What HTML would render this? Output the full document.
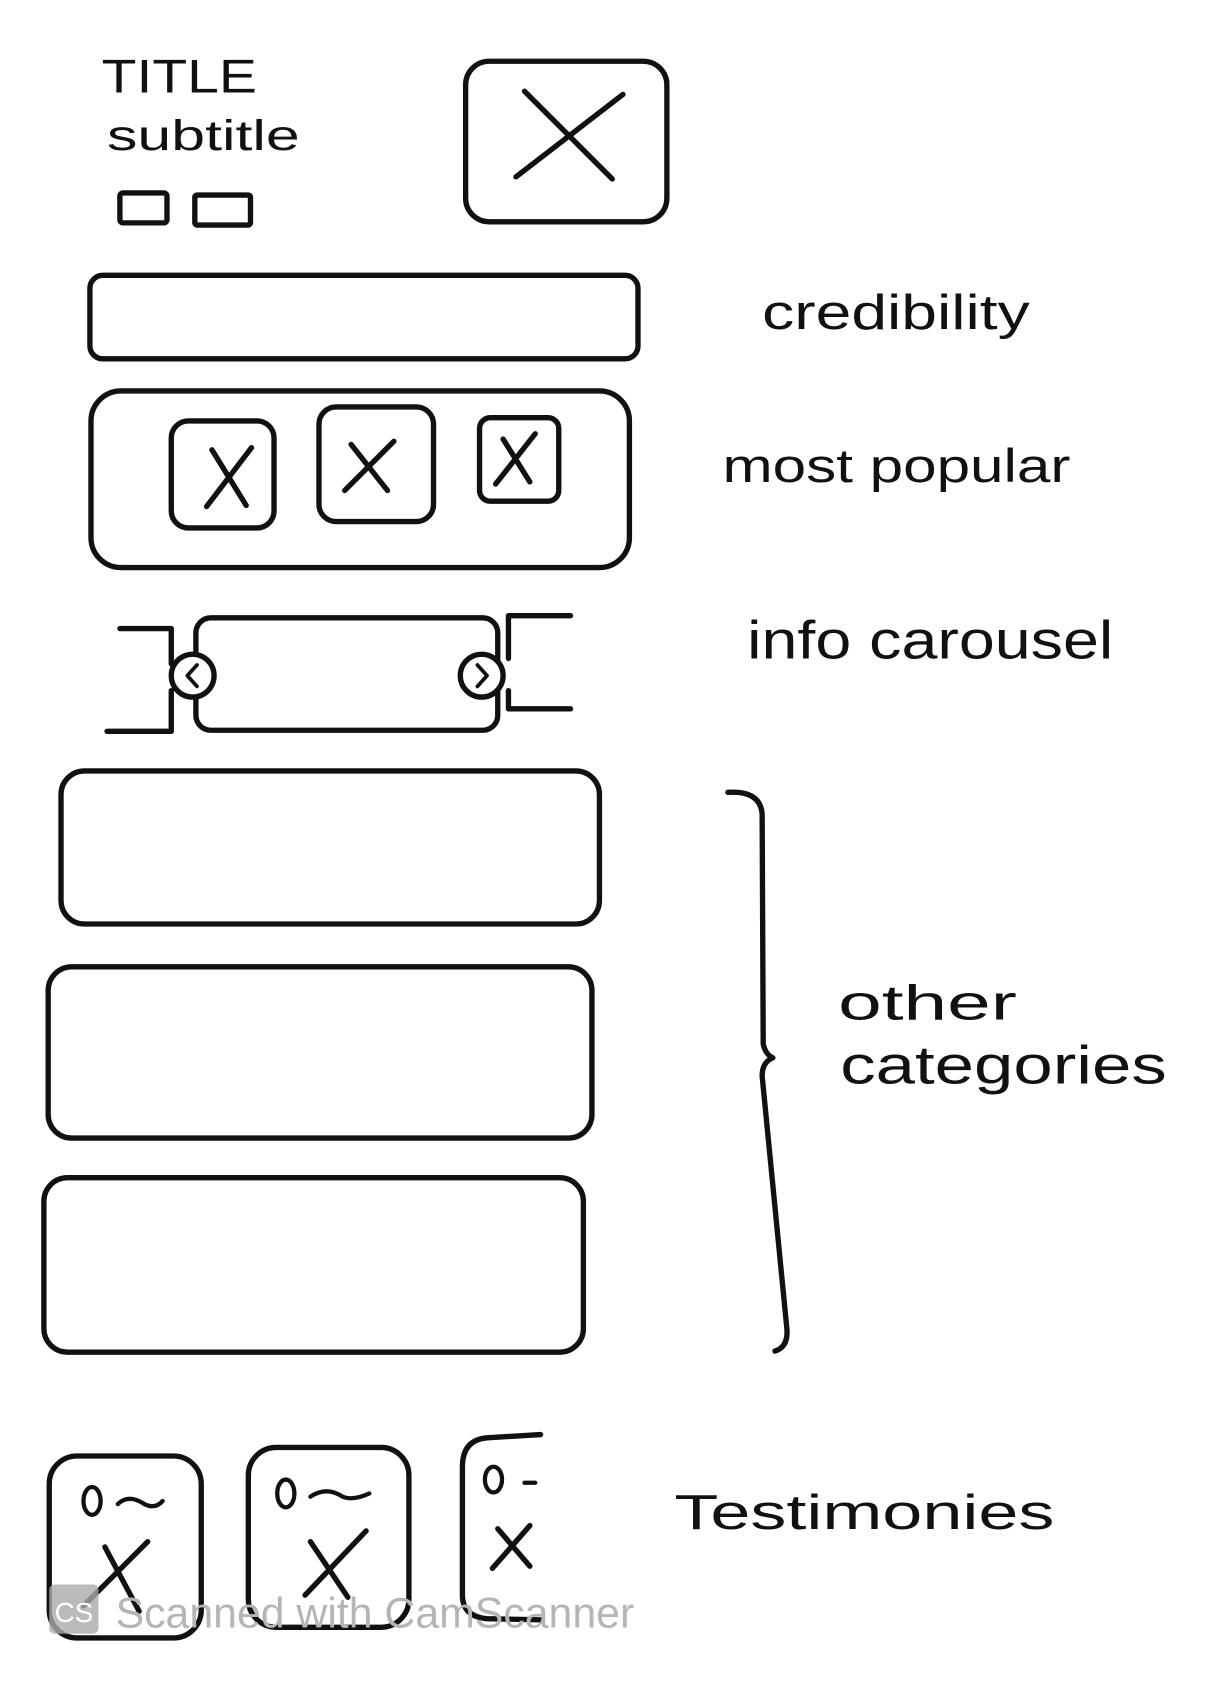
<!DOCTYPE html>
<html><head><meta charset="utf-8"><style>
html,body{margin:0;padding:0;background:#fff;}
svg{display:block}
text{font-family:"Liberation Sans",sans-serif;fill:#111}
</style></head><body>
<svg width="1216" height="1696" viewBox="0 0 1136 1584" xmlns="http://www.w3.org/2000/svg">
<rect width="1136" height="1584" fill="#fff"/>
<g fill="none" stroke="#111" stroke-width="5" stroke-linecap="round" stroke-linejoin="round">
<rect x="112" y="180" width="44" height="28" rx="3"/>
<rect x="182" y="182" width="52" height="28" rx="2"/>
<rect x="435" y="57" width="188" height="150" rx="22"/>
<path d="M482 165 L582 88 M490 85 L572 167"/>
<rect x="84" y="257" width="512" height="78" rx="12"/>
<rect x="85" y="365" width="503" height="165" rx="28"/>
<rect x="160" y="393" width="96" height="100" rx="16"/>
<path d="M193 473 L235 418 M198 420 L230 472"/>
<rect x="298" y="380" width="107" height="107" rx="16"/>
<path d="M322 458 L368 412 M328 415 L362 458"/>
<rect x="448" y="390" width="74" height="78" rx="10"/>
<path d="M463 452 L500 405 M470 410 L495 450"/>
<rect x="183" y="577" width="282" height="105" rx="14"/>
<path d="M112 587 L160 587 L160 620 M160 645 L160 683 L100 683"/>
<path d="M533 575 L475 575 L475 615 M475 645 L475 662 L533 662"/>
<circle cx="180" cy="631" r="20" fill="#fff"/>
<circle cx="450" cy="631" r="20" fill="#fff"/>
<path d="M184 621 L175 631 L184 641 M446 621 L455 631 L446 641" stroke-width="3.5"/>
<rect x="57" y="720" width="503" height="143" rx="22"/>
<rect x="45" y="903" width="508" height="160" rx="22"/>
<rect x="41" y="1100" width="504" height="163" rx="22"/>
<path d="M680 740 Q710 738 712 760 L713 975 Q715 985 722 988 Q712 992 712 1005 L735 1240 Q737 1258 724 1262"/>
<rect x="46" y="1360" width="142" height="170" rx="26"/>
<rect x="232" y="1352" width="150" height="168" rx="26"/>
<path d="M505 1340 L455 1343 Q432 1345 432 1370 L432 1490 Q432 1510 455 1512 L505 1513"/>
<path d="M78 1500 L138 1440 M98 1445 L130 1505 M285 1490 L342 1430 M290 1440 L325 1492 M460 1465 L495 1425 M465 1428 L495 1463"/>
<ellipse cx="86" cy="1402" rx="8" ry="13" stroke-width="4"/>
<path d="M110 1405 Q120 1395 135 1405 Q145 1410 152 1402" stroke-width="4"/>
<ellipse cx="267" cy="1395" rx="8" ry="13" stroke-width="4"/>
<path d="M290 1398 Q305 1388 320 1398 Q330 1402 345 1395" stroke-width="4"/>
<ellipse cx="461" cy="1382" rx="8" ry="12" stroke-width="4"/>
<path d="M490 1385 L500 1385" stroke-width="4"/>
</g>
<g lengthAdjust="spacingAndGlyphs">
<text x="95" y="86" font-size="44" textLength="145" lengthAdjust="spacingAndGlyphs">TITLE</text>
<text x="100" y="140" font-size="40" textLength="180" lengthAdjust="spacingAndGlyphs">subtitle</text>
<text x="712" y="307" font-size="46" textLength="250" lengthAdjust="spacingAndGlyphs">credibility</text>
<text x="675" y="450" font-size="44" textLength="325" lengthAdjust="spacingAndGlyphs">most popular</text>
<text x="698" y="615" font-size="50" textLength="342" lengthAdjust="spacingAndGlyphs">info carousel</text>
<text x="783" y="952" font-size="46" textLength="167" lengthAdjust="spacingAndGlyphs">other</text>
<text x="785" y="1012" font-size="50" textLength="305" lengthAdjust="spacingAndGlyphs">categories</text>
<text x="630" y="1428" font-size="46" textLength="355" lengthAdjust="spacingAndGlyphs">Testimonies</text>
</g>
<rect x="46" y="1480" width="46" height="46" rx="5" fill="#aaa" opacity="0.8"/>
<text x="51" y="1515" font-size="26" style="fill:#fff">CS</text>
<text x="108" y="1520" font-size="40" style="fill:#b5b5b5">Scanned with CamScanner</text>
</svg>
</body></html>
